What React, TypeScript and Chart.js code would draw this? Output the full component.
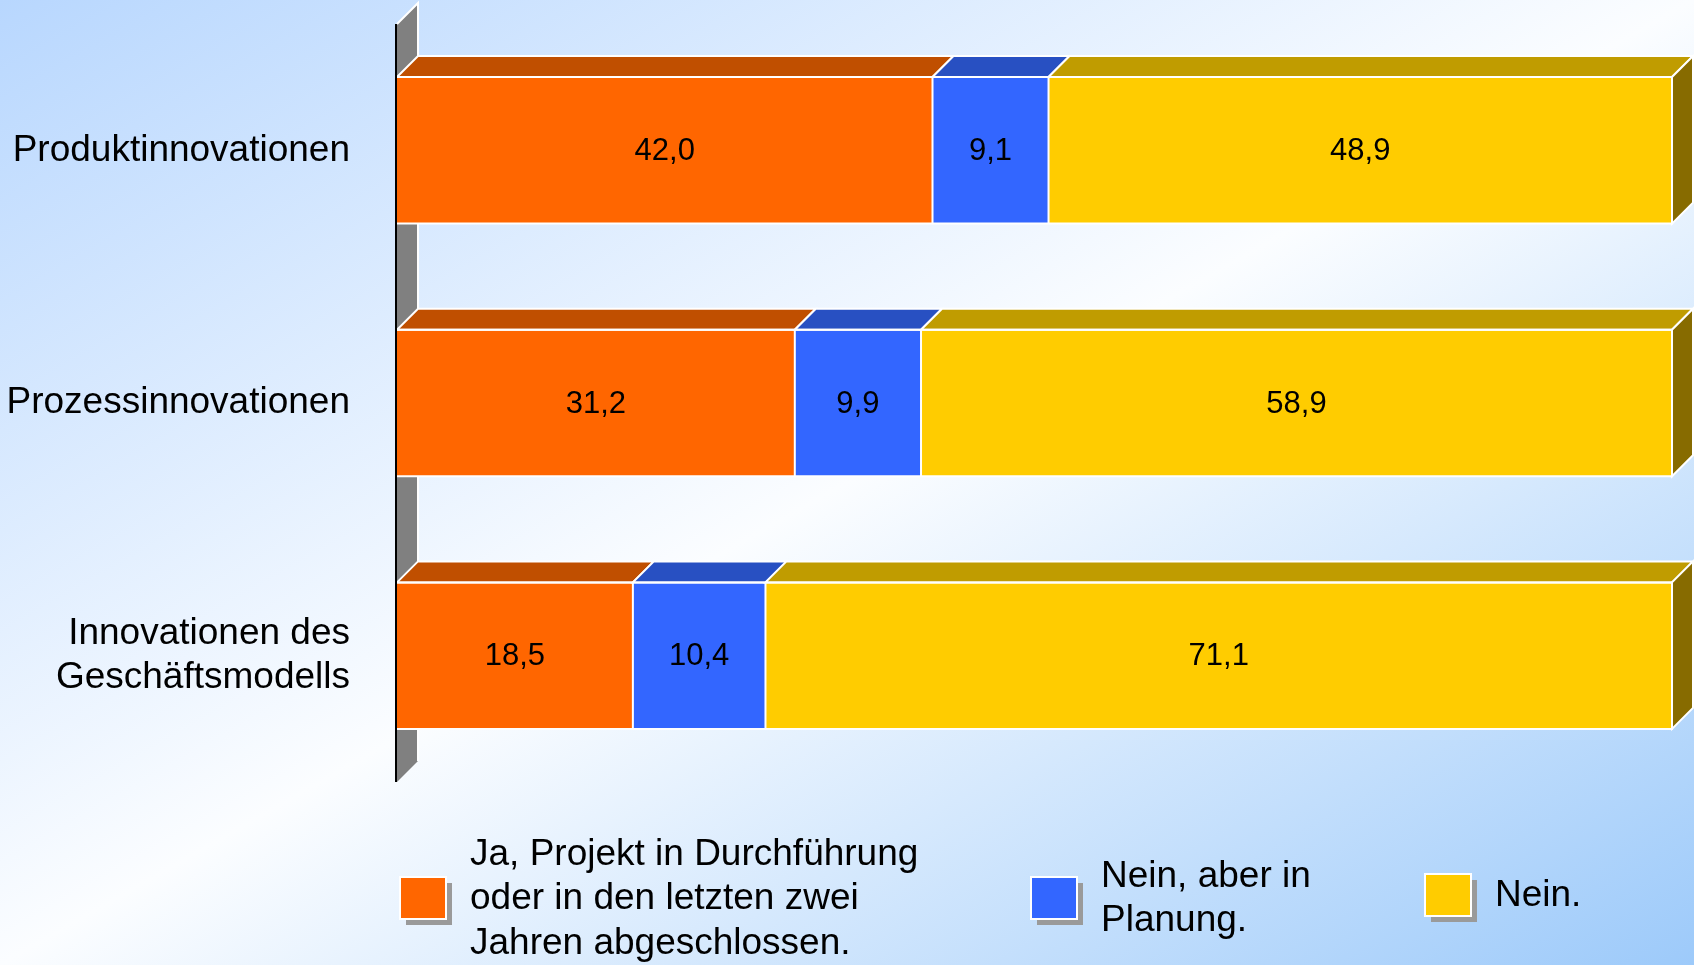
import React, { useEffect, useRef } from 'react';
import { Chart, registerables } from 'chart.js';

Chart.register(...registerables);

const categories: (string | string[])[] = [
  'Produktinnovationen',
  'Prozessinnovationen',
  ['Innovationen des', 'Geschäftsmodells'],
];
const seriesLabels = [
  'Ja, Projekt in Durchführung oder in den letzten zwei Jahren abgeschlossen.',
  'Nein, aber in Planung.',
  'Nein.',
];
const legendLines: string[][] = [
  ['Ja, Projekt in Durchführung', 'oder in den letzten zwei', 'Jahren abgeschlossen.'],
  ['Nein, aber in', 'Planung.'],
  ['Nein.'],
];
const jaValues = [42.0, 31.2, 18.5];
const planungValues = [9.1, 9.9, 10.4];
const neinValues = [48.9, 58.9, 71.1];

const frontColors = ['#ff6600', '#3366ff', '#ffcc00'];
const topColors = ['#c04f00', '#2850c2', '#c09c00'];
const sideColors = ['#803400', '#1a3480', '#876b00'];

const FONT = '"Liberation Sans", Arial, sans-serif';
const D = 21;

const bgPlugin = {
  id: 'bg3d',
  beforeDraw(chart: any) {
    const { ctx, width, height } = chart;
    const cx = width / 2;
    const cy = height / 2;
    const ux = height;
    const uy = width;
    const len = Math.hypot(ux, uy);
    const nx = ux / len;
    const ny = uy / len;
    const proj = (cx * ux + cy * uy) / len;
    const g = ctx.createLinearGradient(cx - nx * proj, cy - ny * proj, cx + nx * proj, cy + ny * proj);
    g.addColorStop(0, '#b8d7fe');
    g.addColorStop(0.5, '#fbfdff');
    g.addColorStop(1, '#9dcafa');
    ctx.save();
    ctx.fillStyle = g;
    ctx.fillRect(0, 0, width, height);
    ctx.restore();
  },
  beforeDatasetsDraw(chart: any) {
    const { ctx } = chart;
    const { left, top, bottom } = chart.chartArea;
    ctx.save();
    ctx.beginPath();
    ctx.moveTo(left, top);
    ctx.lineTo(left + D, top - D);
    ctx.lineTo(left + D, bottom - D);
    ctx.lineTo(left, bottom);
    ctx.closePath();
    ctx.fillStyle = '#808080';
    ctx.fill();
    ctx.beginPath();
    ctx.moveTo(left, top);
    ctx.lineTo(left + D, top - D);
    ctx.lineTo(left + D, bottom - D);
    ctx.strokeStyle = '#ffffff';
    ctx.lineWidth = 2;
    ctx.stroke();
    ctx.restore();
  },
  afterDatasetsDraw(chart: any) {
    const { ctx } = chart;
    const nSets = chart.data.datasets.length;
    const nCats = chart.data.labels.length;
    ctx.save();
    ctx.lineWidth = 2;
    ctx.strokeStyle = '#ffffff';
    for (let i = 0; i < nCats; i++) {
      for (let j = 0; j < nSets; j++) {
        const el: any = chart.getDatasetMeta(j).data[i];
        const p = el.getProps(['x', 'y', 'base', 'height'], true);
        const l = Math.min(p.base, p.x);
        const r = Math.max(p.base, p.x);
        const t = p.y - p.height / 2;
        const b = p.y + p.height / 2;
        ctx.strokeStyle = '#ffffff';
        // top face
        ctx.beginPath();
        ctx.moveTo(l, t);
        ctx.lineTo(l + D, t - D);
        ctx.lineTo(r + D, t - D);
        ctx.lineTo(r, t);
        ctx.closePath();
        ctx.fillStyle = topColors[j];
        ctx.fill();
        ctx.stroke();
        if (j === nSets - 1) {
          ctx.beginPath();
          ctx.moveTo(r, t);
          ctx.lineTo(r + D, t - D);
          ctx.lineTo(r + D, b - D);
          ctx.lineTo(r, b);
          ctx.closePath();
          ctx.fillStyle = sideColors[j];
          ctx.fill();
          ctx.stroke();
        }
        // front outline (top, right, bottom)
        ctx.beginPath();
        ctx.moveTo(l, t);
        ctx.lineTo(r, t);
        ctx.lineTo(r, b);
        ctx.lineTo(l, b);
        ctx.stroke();
        // value label
        const v = chart.data.datasets[j].data[i] as number;
        ctx.fillStyle = '#000000';
        ctx.font = `31px ${FONT}`;
        ctx.textAlign = 'center';
        ctx.textBaseline = 'middle';
        ctx.fillText(v.toFixed(1).replace('.', ','), (l + r) / 2, p.y + 1);
      }
    }
    // axis line
    const { left, top, bottom } = chart.chartArea;
    ctx.beginPath();
    ctx.moveTo(left - 1, top);
    ctx.lineTo(left - 1, bottom);
    ctx.strokeStyle = '#000000';
    ctx.lineWidth = 2;
    ctx.stroke();
    ctx.restore();
  },
  afterDraw(chart: any) {
    const { ctx } = chart;
    const boxes = [
      { x: 400, cy: 898, textX: 470 },
      { x: 1031, cy: 898, textX: 1101 },
      { x: 1425, cy: 895, textX: 1495 },
    ];
    const w = 46;
    const h = 42;
    const lh = 44.5;
    ctx.save();
    chart.data.datasets.forEach((ds: any, j: number) => {
      const bx = boxes[j];
      const y0 = bx.cy - h / 2;
      ctx.fillStyle = '#9a9a9a';
      ctx.fillRect(bx.x + 6, y0 + 6, w, h);
      ctx.fillStyle = ds.backgroundColor;
      ctx.fillRect(bx.x, y0, w, h);
      ctx.strokeStyle = '#ffffff';
      ctx.lineWidth = 2;
      ctx.strokeRect(bx.x, y0, w, h);
      const lines = legendLines[j];
      ctx.fillStyle = '#000000';
      ctx.font = `37px ${FONT}`;
      ctx.textAlign = 'left';
      ctx.textBaseline = 'middle';
      const start = bx.cy + 1 - ((lines.length - 1) * lh) / 2;
      lines.forEach((ln, k) => ctx.fillText(ln, bx.textX, start + k * lh));
    });
    ctx.restore();
  },
};

export default function App() {
  const ref = useRef<HTMLCanvasElement>(null);
  useEffect(() => {
    document.body.style.margin = '0';
    const canvas = ref.current!;
    const chart = new Chart(canvas, {
      type: 'bar',
      data: {
        labels: categories,
        datasets: [
          { label: seriesLabels[0], data: jaValues, backgroundColor: frontColors[0], borderWidth: 0 },
          { label: seriesLabels[1], data: planungValues, backgroundColor: frontColors[1], borderWidth: 0 },
          { label: seriesLabels[2], data: neinValues, backgroundColor: frontColors[2], borderWidth: 0 },
        ],
      },
      options: {
        indexAxis: 'y',
        responsive: false,
        animation: false,
        devicePixelRatio: 1,
        layout: { padding: { left: 0, top: 24, right: 22, bottom: 183 } },
        datasets: { bar: { categoryPercentage: 0.58, barPercentage: 1 } },
        plugins: { legend: { display: false }, tooltip: { enabled: false } },
        scales: {
          x: { stacked: true, min: 0, max: 100, display: false },
          y: {
            stacked: true,
            grid: { display: false, drawTicks: false },
            border: { display: false },
            ticks: {
              color: '#000000',
              padding: 47,
              font: { family: FONT, size: 37, lineHeight: 1.2 },
            },
            afterFit: (scale: any) => {
              scale.width = 397;
              scale.paddingTop = 0;
              scale.paddingBottom = 0;
            },
          },
        },
      },
      plugins: [bgPlugin],
    });
    return () => chart.destroy();
  }, []);
  return (
    <div style={{ width: 1694, height: 965 }}>
      <canvas ref={ref} width={1694} height={965} style={{ display: 'block' }} />
    </div>
  );
}
